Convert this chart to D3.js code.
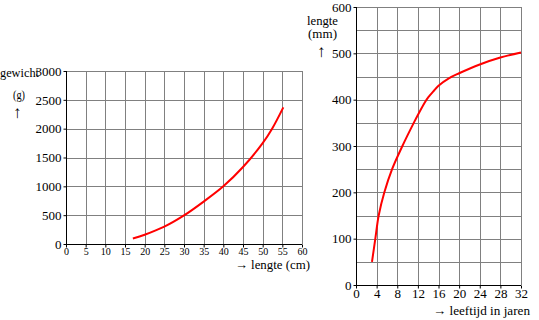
<!DOCTYPE html>
<html>
<head>
<meta charset="utf-8">
<script src="https://cdn.jsdelivr.net/npm/d3@7"></script>
<style>
  body { margin: 0; background: #fff; }
</style>
</head>
<body>
<svg id="chart" width="539" height="320"></svg>
<script>
// left chart: gewicht (g) tegen lengte (cm)
const lengteCm = [17, 20, 25, 30, 35, 40, 45, 50, 52.4, 55.25]
const gewichtG = [95, 160, 300, 495, 735, 1000, 1335, 1750, 2000, 2370]
const leftXTicks = [0, 5, 10, 15, 20, 25, 30, 35, 40, 45, 50, 55, 60]
const leftYTicks = [0, 500, 1000, 1500, 2000, 2500, 3000]

// right chart: lengte (mm) tegen leeftijd in jaren
const leeftijd = [3.1, 3.75, 4.4, 5.5, 7, 9, 11.3, 12, 13.4, 14, 15, 16, 18, 20, 24, 28, 32]
const lengteMm = [50, 100, 150, 200, 250, 300, 352, 367, 395, 405, 418, 430, 446, 457, 476, 491, 502]
const rightXTicks = [0, 4, 8, 12, 16, 20, 24, 28, 32]
const rightYTicks = [0, 100, 200, 300, 400, 500, 600]

const serif = '"Liberation Serif", "Times New Roman", "DejaVu Serif", serif'
const svg = d3.select("#chart")
const gridColor = "#808080"

function drawChart(opt) {
  const x = d3.scaleLinear().domain(opt.xDomain).range(opt.xRange)
  const y = d3.scaleLinear().domain(opt.yDomain).range(opt.yRange)
  const g = svg.append("g")

  // grid
  g.append("g").selectAll("line").data(d3.range(opt.xDomain[0], opt.xDomain[1] + 0.001, opt.xStep))
    .enter().append("line")
    .attr("x1", d => Math.round(x(d)) + 0.5).attr("x2", d => Math.round(x(d)) + 0.5)
    .attr("y1", opt.yRange[0]).attr("y2", opt.yRange[1])
    .attr("stroke", gridColor)
  g.append("g").selectAll("line").data(d3.range(opt.yDomain[0], opt.yDomain[1] + 0.001, opt.yStep))
    .enter().append("line")
    .attr("y1", d => Math.round(y(d)) + 0.5).attr("y2", d => Math.round(y(d)) + 0.5)
    .attr("x1", opt.xRange[0]).attr("x2", opt.xRange[1])
    .attr("stroke", gridColor)

  // axes
  const ax = g.append("g")
    .attr("transform", "translate(0," + (Math.round(y(0)) + 0.5) + ")")
    .call(d3.axisBottom(x).tickValues(opt.xTicks).tickSize(3).tickPadding(0).tickFormat(d3.format("d")))
  ax.select(".domain").attr("stroke", "#000").attr("d", "M" + opt.xRange[0] + ",0H" + opt.xRange[1])
  ax.attr("font-family", serif).attr("font-size", opt.xFont)
  const ay = g.append("g")
    .attr("transform", "translate(" + (Math.round(x(0)) + 0.5) + ",0)")
    .call(d3.axisLeft(y).tickValues(opt.yTicks).tickSize(3).tickPadding(2).tickFormat(d3.format("d")))
  ay.select(".domain").attr("stroke", "#000").attr("d", "M0," + opt.yRange[0] + "V" + opt.yRange[1])
  ay.attr("font-family", serif).attr("font-size", opt.yFont)
  g.selectAll(".tick line").attr("stroke", "#000")

  // curve
  const pts = opt.xs.map((v, i) => [v, opt.ys[i]])
  g.append("path").datum(pts)
    .attr("fill", "none").attr("stroke", "#ff0000").attr("stroke-width", 2)
    .attr("d", d3.line().x(d => x(d[0])).y(d => y(d[1])).curve(d3.curveCatmullRom.alpha(0.5)))
  return g
}

drawChart({
  xDomain: [0, 60], yDomain: [0, 3000], xStep: 5, yStep: 500,
  xRange: [66, 302], yRange: [244, 71],
  xTicks: leftXTicks, yTicks: leftYTicks, xFont: 10, yFont: 13,
  xs: lengteCm, ys: gewichtG
})

drawChart({
  xDomain: [0, 32], yDomain: [0, 600], xStep: 4, yStep: 50,
  xRange: [356, 521], yRange: [285, 7],
  xTicks: rightXTicks, yTicks: rightYTicks, xFont: 13, yFont: 13,
  xs: leeftijd, ys: lengteMm
})

// labels (squeezed to the width they take in the original)
const lab = (t, x, y, size, w) => {
  const el = svg.append("text").text(t)
    .attr("x", x).attr("y", y).attr("font-size", size)
    .attr("font-family", serif)
  if (w) el.attr("textLength", w).attr("lengthAdjust", "spacingAndGlyphs")
  return el
}

lab("gewicht", 0, 77, 12, 39)
lab("(g)", 13, 99, 12, 12)
lab("↑", 13, 118, 17)
lab("→ lengte (cm)", 235, 269, 13, 75)

lab("lengte", 307, 25, 12, 31)
lab("(mm)", 308, 38, 12, 29)
lab("↑", 317, 57, 17)
lab("→ leeftijd in jaren", 433, 315, 13, 97)
</script>
</body>
</html>
